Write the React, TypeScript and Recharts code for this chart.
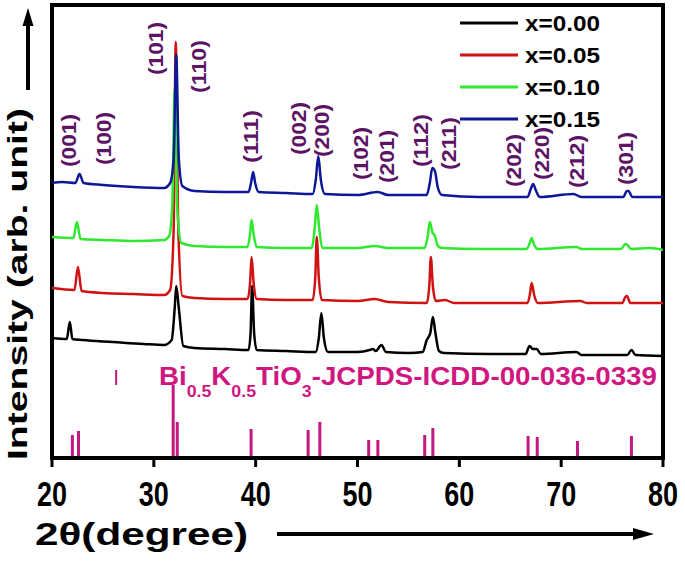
import {
  LineChart,
  Line,
  XAxis,
  YAxis,
  ReferenceArea,
  ReferenceLine,
  ReferenceDot,
} from "recharts";

type Pt = [number, number];

// 2theta (deg) vs intensity (arb. unit, patterns already offset)
const x000: Pt[] = [
  [20, 120], [21.45, 119], [21.75, 136], [22.0, 119], [23, 118], [26, 116], [29, 114], [31, 113],
  [31.75, 118], [32.05, 150], [32.2, 172], [32.45, 150], [32.9, 112], [34, 110], [37, 109],
  [39.3, 108], [39.5, 125], [39.65, 172], [39.85, 125], [40.1, 108], [43, 107], [45.9, 106],
  [46.2, 120], [46.45, 145], [46.7, 120], [47.1, 106], [50, 106], [51.2, 108], [51.5, 109],
  [51.8, 107], [52.35, 113], [52.8, 106], [55, 105], [56.4, 106], [56.8, 118], [57.15, 125],
  [57.4, 141], [57.65, 125], [58, 107], [58.5, 105], [63, 104], [66.5, 104], [66.9, 112],
  [67.2, 109], [67.6, 109], [68.0, 104], [71.5, 106], [72, 103], [76.5, 103], [76.9, 108],
  [77.3, 103], [80, 102],
];

const x005: Pt[] = [
  [20, 170], [22.2, 168], [22.55, 191], [22.9, 167], [25, 165], [28, 164], [31, 163],
  [31.6, 168], [31.95, 230], [32.15, 416], [32.4, 230], [32.8, 162], [34, 160], [37, 159],
  [39.2, 159], [39.45, 175], [39.6, 201], [39.8, 175], [40.1, 159], [43, 158], [45.6, 158],
  [45.85, 180], [46.0, 221], [46.2, 180], [46.5, 158], [50, 157], [51.7, 159], [53, 156],
  [56.8, 155], [57.05, 172], [57.2, 201], [57.4, 172], [57.7, 157], [58.6, 158], [59.5, 155],
  [63, 155], [66.7, 155], [66.95, 165], [67.1, 175], [67.35, 163], [67.7, 155], [71.9, 157],
  [72.5, 155], [76, 155], [76.3, 161], [76.45, 162], [76.8, 155], [80, 155],
];

const x010: Pt[] = [
  [20, 221], [22.1, 220], [22.45, 236], [22.8, 219], [25, 218], [28, 217], [31, 218],
  [31.5, 222], [31.8, 250], [32.05, 368], [32.3, 250], [32.7, 215], [34, 212], [37, 211],
  [39.2, 211], [39.45, 224], [39.6, 238], [39.8, 224], [40.1, 211], [43, 210], [45.5, 210],
  [45.8, 230], [46.0, 253], [46.25, 228], [46.6, 210], [50, 210], [51.7, 212], [53, 210],
  [56.6, 210], [56.9, 222], [57.1, 236], [57.35, 226], [57.6, 222], [57.9, 212], [58.3, 210],
  [62, 209], [66.6, 209], [66.95, 216], [67.1, 220], [67.35, 213], [67.7, 209], [71.5, 211],
  [72, 209], [75.9, 209], [76.3, 214], [76.5, 213], [76.9, 209], [78.7, 210], [80, 208],
];

const x015: Pt[] = [
  [20, 275], [21, 276], [22.3, 275], [22.7, 284], [23.1, 275], [25, 273], [28, 271], [31, 270],
  [31.6, 275], [31.95, 300], [32.2, 403], [32.45, 300], [32.8, 272], [34, 267], [37, 266],
  [39.3, 266], [39.55, 275], [39.75, 286], [39.95, 275], [40.3, 266], [43, 265], [45.6, 264],
  [45.9, 278], [46.15, 302], [46.4, 278], [46.8, 264], [50, 263], [52, 266], [53, 263],
  [56.8, 263], [57.1, 275], [57.35, 290], [57.6, 287], [57.9, 270], [58.3, 263], [62, 261],
  [66.7, 261], [67.05, 270], [67.25, 274], [67.5, 268], [67.9, 261], [71.2, 264], [72, 261],
  [76.1, 261], [76.45, 267], [76.6, 267], [77, 261], [80, 261],
];

// JCPDS 00-036-0339 reference lines: position, stick height
const refPos = [22.0, 22.6, 31.9, 32.3, 39.55, 45.15, 46.3, 51.1, 52.0, 56.6, 57.4, 66.75, 67.65, 71.6, 76.9];
const refHeight = [23, 27, 73, 36, 29, 28, 36, 18, 18, 23, 30, 22, 21, 17, 22];

// Miller indices: label, position, bottom of label
const hklNames = ["(001)", "(100)", "(101)", "(110)", "(111)", "(002)", "(200)", "(102)", "(201)", "(112)", "(211)", "(202)", "(220)", "(212)", "(301)"];
const hklPos = [21.77, 25.2, 30.3, 34.5, 39.65, 44.4, 46.6, 50.45, 53.0, 56.35, 59.1, 65.5, 68.25, 71.7, 76.5];
const hklBottom = [291, 293, 383, 365, 295, 303, 301, 278, 275, 291, 288, 271, 278, 270, 273];

const xTicks = [20, 30, 40, 50, 60, 70, 80];

const SERIES = [
  { name: "x=0.00", color: "#000000", data: x000 },
  { name: "x=0.05", color: "#d01212", data: x005 },
  { name: "x=0.10", color: "#2fe82f", data: x010 },
  { name: "x=0.15", color: "#0c1896", data: x015 },
];

const FONT = "'Liberation Sans', Arial, sans-serif";
const PURPLE = "#5c1464";
const MAGENTA = "#d0177f";
const STICK = "#c2187f";

const toRows = (pts: Pt[]) => pts.map(([x, y]) => ({ x, y }));

const renderTick = (p: any) => (
  <text
    x={p.x}
    y={p.y + 37}
    textAnchor="middle"
    fontFamily={FONT}
    fontWeight="bold"
    fontSize={35}
    textLength={30}
    lengthAdjust="spacingAndGlyphs"
    fill="#000"
  >
    {p.payload.value}
  </text>
);

const millerShape = (label: string) => (p: any) => (
  <text
    transform={`translate(${p.cx + 6},${p.cy}) rotate(-90)`}
    fontFamily={FONT}
    fontWeight="bold"
    fontSize={20}
    textLength={53}
    lengthAdjust="spacingAndGlyphs"
    fill={PURPLE}
  >
    {label}
  </text>
);

const phaseShape = (p: any) => (
  <text
    x={p.cx}
    y={p.cy}
    fontFamily={FONT}
    fontWeight="bold"
    fontSize={25}
    fill={MAGENTA}
    textLength={498}
    lengthAdjust="spacingAndGlyphs"
  >
    Bi
    <tspan fontSize={16} dy={12}>0.5</tspan>
    <tspan dy={-12}>K</tspan>
    <tspan fontSize={16} dy={12}>0.5</tspan>
    <tspan dy={-12}>TiO</tspan>
    <tspan fontSize={16} dy={12}>3</tspan>
    <tspan dy={-12}>-JCPDS-ICDD-00-036-0339</tspan>
  </text>
);

export default function App() {
  return (
    <div style={{ position: "absolute", left: 0, top: 0, width: 685, height: 566, background: "#fff" }}>
      <LineChart width={685} height={566} margin={{ top: 5, right: 22, left: 52, bottom: 58 }}>
        <XAxis
          type="number"
          dataKey="x"
          domain={[20, 80]}
          ticks={xTicks}
          allowDataOverflow
          height={50}
          axisLine={{ stroke: "#000", strokeWidth: 4 }}
          tickLine={{ stroke: "#000", strokeWidth: 3 }}
          tickSize={9}
          tick={renderTick}
        />
        <YAxis type="number" domain={[0, 453]} hide allowDataOverflow />
        <ReferenceArea x1={20} x2={80} y1={0} y2={453} fill="none" stroke="#000" strokeWidth={4} ifOverflow="visible" />
        {refPos.map((pos, i) => (
          <ReferenceLine
            key={pos}
            segment={[{ x: pos, y: 0 }, { x: pos, y: refHeight[i] }]}
            stroke={STICK}
            strokeWidth={3}
          />
        ))}
        <ReferenceLine segment={[{ x: 26.3, y: 73 }, { x: 26.3, y: 88 }]} stroke={STICK} strokeWidth={2} />
        <ReferenceDot x={30.5} y={73} r={1} shape={phaseShape} />
        {SERIES.map((s) => (
          <Line
            key={s.name}
            name={s.name}
            data={toRows(s.data)}
            dataKey="y"
            type="monotone"
            stroke={s.color}
            strokeWidth={2.5}
            dot={false}
            isAnimationActive={false}
          />
        ))}
        {hklNames.map((h, i) => (
          <ReferenceDot key={h} x={hklPos[i]} y={hklBottom[i]} r={1} shape={millerShape(h)} />
        ))}
      </LineChart>
      <svg width={685} height={566} style={{ position: "absolute", left: 0, top: 0, pointerEvents: "none" }}>
        {SERIES.map((s, i) => (
          <g key={s.name}>
            <line x1={460} x2={518} y1={23 + i * 32} y2={23 + i * 32} stroke={s.color} strokeWidth={3} />
            <text
              x={525}
              y={31 + i * 32}
              fontFamily={FONT}
              fontWeight="bold"
              fontSize={22}
              textLength={75}
              lengthAdjust="spacingAndGlyphs"
            >
              {s.name}
            </text>
          </g>
        ))}
        <text
          transform="translate(27,460) rotate(-90)"
          fontFamily={FONT}
          fontWeight="bold"
          fontSize={28}
          textLength={352}
          lengthAdjust="spacingAndGlyphs"
        >
          Intensity (arb. unit)
        </text>
        <line x1={28} x2={28} y1={90} y2={22} stroke="#000" strokeWidth={4} />
        <polygon points="28,8 22.5,26 33.5,26" fill="#000" />
        <text
          x={35}
          y={545}
          fontFamily={FONT}
          fontWeight="bold"
          fontSize={32}
          textLength={213}
          lengthAdjust="spacingAndGlyphs"
        >
          2θ(degree)
        </text>
        <line x1={277} x2={636} y1={534} y2={534} stroke="#000" strokeWidth={4} />
        <polygon points="654,534 633,528 633,540" fill="#000" />
      </svg>
    </div>
  );
}
